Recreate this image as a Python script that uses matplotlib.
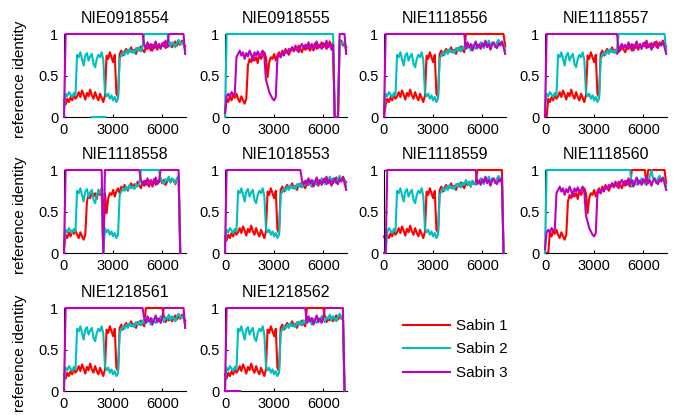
import numpy as np
import matplotlib.pyplot as plt

plt.rcParams['font.family'] = ['Liberation Sans', 'DejaVu Sans']

# reference identity along the genome, read every 100 nt (0 ... 7400)
sabin1_early = [
    0.20, 0.15, 0.22, 0.18, 0.24, 0.20, 0.27, 0.22, 0.25, 0.30,
    0.24, 0.32, 0.27, 0.21, 0.29, 0.25, 0.33, 0.26, 0.22, 0.30,
    0.24, 0.20, 0.28, 0.23, 0.18, 0.26, 0.74, 0.70, 0.78, 0.72,
    0.66, 0.75, 0.28, 0.24, 0.76, 0.80, 0.74, 0.79, 0.82, 0.77,
    0.80, 0.84, 0.78, 0.81, 0.76, 0.83, 0.80, 0.85, 0.81, 0.78,
    0.84, 0.82, 0.86, 0.80, 0.87, 0.83, 0.85, 0.81, 0.88, 0.84,
    0.86, 0.90, 0.83, 0.87, 0.85, 0.89, 0.84, 0.88, 0.91, 0.86,
    0.90, 0.87, 0.92, 0.88, 0.85,
]
sabin1_late = [
    0.05, 0.22, 0.18, 0.25, 0.20, 0.27, 0.23, 0.28, 0.22, 0.18,
    0.25, 0.20, 0.16, 0.22, 0.62, 0.70, 0.66, 0.74, 0.68, 0.72,
    0.65, 0.76, 0.70, 0.74, 0.78, 0.72, 0.48, 0.66, 0.72, 0.70,
    0.76, 0.68, 0.74, 0.78, 0.72, 0.80, 0.76, 0.82, 0.78, 0.75,
    0.81, 0.84, 0.79, 0.83, 0.80, 0.86, 0.82, 0.78, 0.85, 0.81,
    0.87, 0.83, 0.80, 0.86, 0.84, 0.89, 0.82, 0.87, 0.85, 0.90,
    0.84, 0.88, 0.82, 0.86, 0.91, 0.85, 0.89, 0.87, 0.83, 0.90,
    0.88, 0.92, 0.86, 0.89, 0.84,
]
sabin2_base = [
    0.10, 0.28, 0.25, 0.30, 0.27, 0.24, 0.29, 0.26, 0.75, 0.72,
    0.78, 0.70, 0.62, 0.74, 0.77, 0.68, 0.73, 0.76, 0.64, 0.60,
    0.70, 0.75, 0.72, 0.78, 0.69, 0.30, 0.25, 0.28, 0.22, 0.26,
    0.20, 0.24, 0.18, 0.22, 0.70, 0.74, 0.78, 0.75, 0.80, 0.76,
    0.82, 0.78, 0.80, 0.77, 0.83, 0.80, 0.84, 0.79, 0.85, 0.82,
    0.88, 0.83, 0.86, 0.80, 0.87, 0.84, 0.82, 0.88, 0.85, 0.90,
    0.86, 0.83, 0.89, 0.87, 0.92, 0.85, 0.90, 0.88, 0.84, 0.90,
    0.93, 0.88, 0.90, 0.87, 0.80,
]
sabin3_base = [
    0.05, 0.25, 0.28, 0.24, 0.30, 0.27, 0.29, 0.72, 0.76, 0.80,
    0.74, 0.78, 0.70, 0.77, 0.73, 0.80, 0.75, 0.68, 0.78, 0.74,
    0.79, 0.72, 0.76, 0.80, 0.74, 0.45, 0.38, 0.30, 0.26, 0.22,
    0.20, 0.24, 0.70, 0.76, 0.72, 0.78, 0.74, 0.80, 0.77, 0.82,
    0.79, 0.84, 0.80, 0.86, 0.82, 0.78, 0.85, 0.88, 0.83, 0.87,
    0.82, 0.90, 0.84, 0.88, 0.80, 0.86, 0.91, 0.83, 0.87, 0.82,
    0.89, 0.85, 0.92, 0.84, 0.88, 0.81, 0.87, 0.90, 0.85, 0.83,
    0.89, 0.86, 0.91, 0.84, 0.76,
]
pos = np.arange(len(sabin1_early)) * 100

isolates = ["NIE0918554", "NIE0918555", "NIE1118556", "NIE1118557", "NIE1118558",
            "NIE1018553", "NIE1118559", "NIE1118560", "NIE1218561", "NIE1218562"]
sabin1_late_panels = [1, 4, 7]   # isolates where Sabin 1 switches up early
genome_end = [7400, 7400, 7400, 7400, 7100, 7400, 7300, 7400, 7400, 7300]

# stretches (nt) where a serotype sits at identity 1
s1_top = [[], [], [(5000, 7300)], [], [], [], [(5700, 7200)],
          [(5300, 6100), (6300, 7300)], [(5000, 6000)], [(5000, 6000)]]
s2_top = [[(4900, 6300)], [(100, 6600)], [], [(4500, 7300)], [(4700, 5800)], [], [],
          [(100, 5200), (6500, 6500)], [], []]
s3_top = [[(100, 4800), (6400, 7300)], [(7000, 7300)], [(100, 4900)], [(100, 4400)],
          [(100, 2300), (2500, 4600), (5900, 7000)], [(100, 4600)], [(200, 5600)], [],
          [(100, 4800), (6100, 7300)], [(100, 4900), (6100, 7200)]]

# stretches (nt) where identity drops to 0
s1_zero = [[], [(6700, 6900)], [(0, 0)], [(0, 100)], [(2400, 2400), (7100, 7100)], [],
           [(7300, 7300)], [(0, 200)], [], [(7300, 7300)]]
s2_zero = [[], [(0, 0), (6700, 6900)], [], [], [(2400, 2400), (7100, 7100)], [],
           [(0, 100), (7300, 7300)], [(0, 0)], [], [(7300, 7300)]]
s3_zero = [[(0, 0)], [(6700, 6900)], [(0, 0)], [(0, 0)], [(0, 0), (2400, 2400), (7100, 7100)],
           [(0, 0)], [(0, 100), (7300, 7300)], [], [(0, 0)], [(0, 0), (7300, 7300)]]

# short extra traces lying on the x axis: panel, serotype index, start, end
extra_panel = [0, 9]
extra_sero = [1, 2]
extra_start = [1700, 0]
extra_end = [2500, 900]

labels = ["Sabin 1", "Sabin 2", "Sabin 3"]
colors = ["#ff0000", "#00bfbf", "#bf00bf"]


def build(base, top, zero, end):
    y = np.array(base, dtype=float)
    for a, b in top:
        y[(pos >= a) & (pos <= b)] = 1.0
    for a, b in zero:
        y[(pos >= a) & (pos <= b)] = 0.0
    keep = pos <= end
    return pos[keep], y[keep]


fig = plt.figure(figsize=(6.78, 4.15), dpi=100)
W, H = 678.0, 415.0
col_left = [64, 225, 384, 545]
row_bottom = [117, 253, 391]

handles = []
for k, name in enumerate(isolates):
    r, c = divmod(k, 4)
    ax = fig.add_axes([col_left[c] / W, 1 - row_bottom[r] / H, 122 / W, 83 / H])
    s1_base = sabin1_late if k in sabin1_late_panels else sabin1_early
    series = [build(s1_base, s1_top[k], s1_zero[k], genome_end[k]),
              build(sabin2_base, s2_top[k], s2_zero[k], genome_end[k]),
              build(sabin3_base, s3_top[k], s3_zero[k], genome_end[k])]
    for i, (x, y) in enumerate(series):
        ln, = ax.plot(x, y, color=colors[i], lw=1.5, clip_on=False, zorder=2 + i)
        if k == 0:
            handles.append(ln)
    for p, s, a, b in zip(extra_panel, extra_sero, extra_start, extra_end):
        if p == k:
            ax.plot([a, b], [0, 0], color=colors[s], lw=1.5, clip_on=False, zorder=2 + s)
    ax.set_xlim(0, 7450)
    ax.set_ylim(0, 1)
    ax.set_xticks([0, 3000, 6000])
    ax.set_yticks([0, 0.5, 1])
    ax.set_yticklabels(["0", "0.5", "1"])
    ax.spines['top'].set_visible(False)
    ax.spines['right'].set_visible(False)
    ax.tick_params(direction='in', length=2, labelsize=10.5, pad=4)
    ax.set_title(name, fontsize=11.5, pad=8)
    if c == 0:
        ax.set_ylabel("reference identity", fontsize=11)
        ax.yaxis.set_label_coords(-0.30, 0.45)

fig.legend(handles, labels, loc='upper left', bbox_to_anchor=(403 / W, 1 - 319 / H),
           frameon=False, fontsize=11, handlelength=3.1, handletextpad=0.4,
           labelspacing=0.62, borderpad=0, borderaxespad=0)

fig.savefig("out.png", dpi=100)
